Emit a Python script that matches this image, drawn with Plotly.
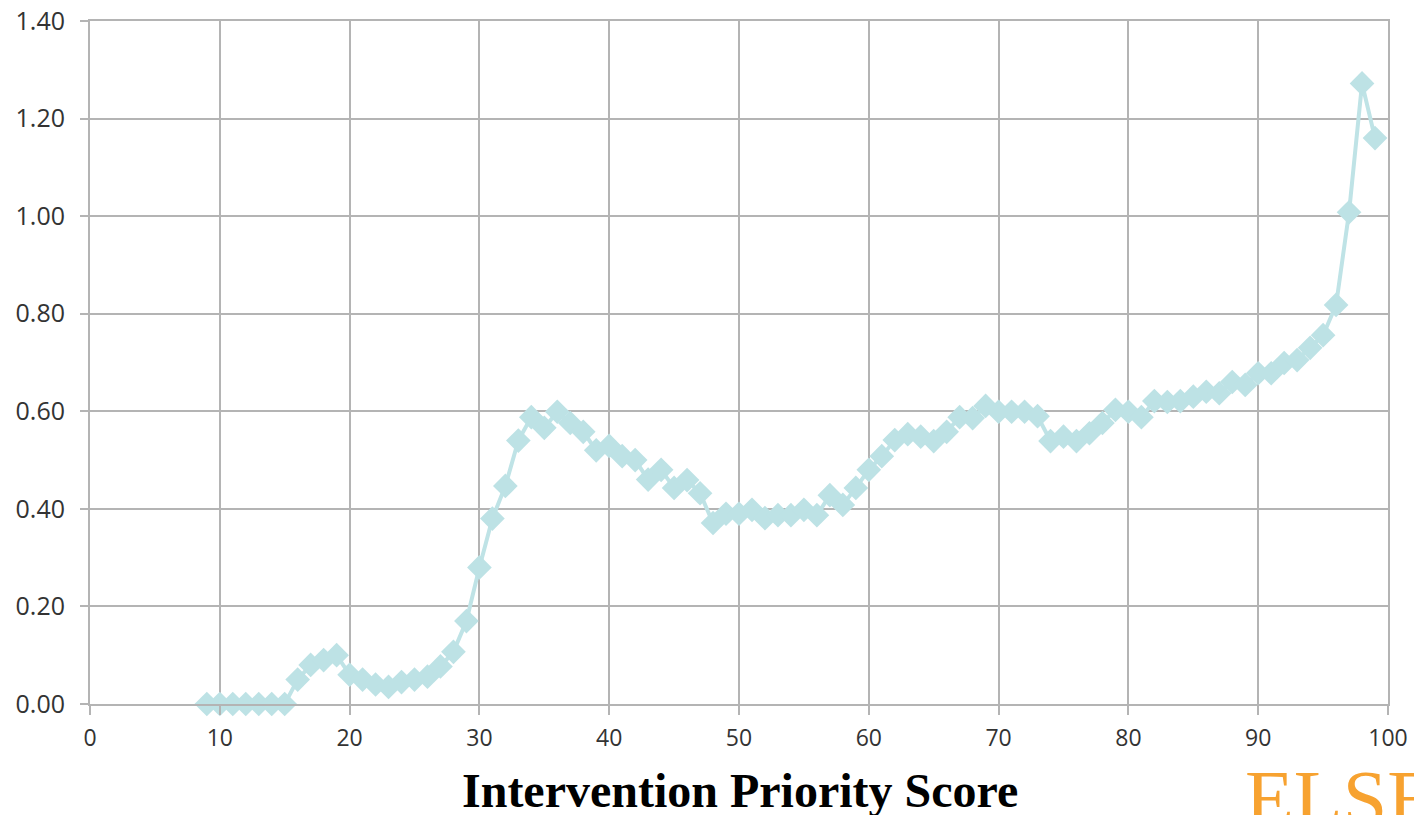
import plotly.graph_objects as go

scores = list(range(9, 100))
values = [
    0.00, 0.00, 0.00, 0.00, 0.00, 0.00, 0.00,          # 9-15
    0.05, 0.08, 0.09, 0.10, 0.06, 0.05, 0.04, 0.035,    # 16-23
    0.045, 0.05, 0.056, 0.077, 0.107, 0.17, 0.28,       # 24-30
    0.38, 0.447, 0.54, 0.588, 0.566, 0.599, 0.576, 0.558, 0.52, 0.529,  # 31-40
    0.508, 0.50, 0.46, 0.48, 0.443, 0.459, 0.432, 0.371, 0.39, 0.39,    # 41-50
    0.398, 0.381, 0.387, 0.387, 0.398, 0.387, 0.428, 0.408, 0.443, 0.48,  # 51-60
    0.508, 0.541, 0.553, 0.548, 0.539, 0.558, 0.588, 0.586, 0.611, 0.599,  # 61-70
    0.599, 0.599, 0.59, 0.539, 0.548, 0.539, 0.555, 0.576, 0.603, 0.599,  # 71-80
    0.588, 0.621, 0.619, 0.621, 0.63, 0.64, 0.637, 0.66, 0.654, 0.678,    # 81-90
    0.678, 0.699, 0.705, 0.73, 0.756, 0.818, 1.008, 1.272, 1.16,          # 91-99
]

x_ticks = list(range(0, 101, 10))
y_ticks = [0.0, 0.2, 0.4, 0.6, 0.8, 1.0, 1.2, 1.4]
x_title = "Intervention Priority Score"
watermark = "ELSEVIER"

fig = go.Figure()
fig.add_trace(go.Scatter(
    x=scores, y=values, mode="lines+markers",
    line=dict(color="#bfe3e6", width=4),
    marker=dict(symbol="diamond", size=19, color="#bde2e5"),
    showlegend=False, cliponaxis=False,
))

grid = "#b4b4b4"
fig.update_layout(
    width=1414, height=815,
    margin=dict(l=90, r=26, t=21, b=111),
    paper_bgcolor="white", plot_bgcolor="white",
    font=dict(family="Open Sans, DejaVu Sans, sans-serif", size=20, color="#333333"),
)
fig.update_xaxes(
    range=[0, 100], tickvals=x_ticks, ticktext=[str(t) for t in x_ticks],
    showgrid=True, gridcolor=grid, gridwidth=2,
    showline=True, linecolor=grid, linewidth=2, mirror=True,
    ticks="outside", ticklen=9, tickcolor=grid, tickwidth=2,
    zeroline=False, tickfont=dict(size=23), automargin=False,
    ticklabelstandoff=3,
)
fig.update_yaxes(
    range=[0, 1.4], tickvals=y_ticks, tickformat=".2f",
    showgrid=True, gridcolor=grid, gridwidth=2,
    showline=True, linecolor=grid, linewidth=2, mirror=True,
    ticks="outside", ticklen=8, tickcolor=grid, tickwidth=2,
    zeroline=False, tickfont=dict(size=25), automargin=False,
    ticklabelstandoff=10,
)
fig.add_annotation(
    text="<b>" + x_title + "</b>", xref="paper", yref="paper",
    x=0.501, y=-0.126, xanchor="center", yanchor="middle", showarrow=False,
    font=dict(family="Liberation Serif, Times New Roman, serif", size=48, color="#000000"),
)
fig.add_annotation(
    text=watermark, xref="paper", yref="paper",
    x=0.888, y=-0.072, xanchor="left", yanchor="top", showarrow=False,
    font=dict(family="Liberation Serif, Times New Roman, serif", size=80, color="#f7a230"),
)

fig.write_html("out.html", config={"displayModeBar": False},
               post_script="document.body.style.margin='0';")
